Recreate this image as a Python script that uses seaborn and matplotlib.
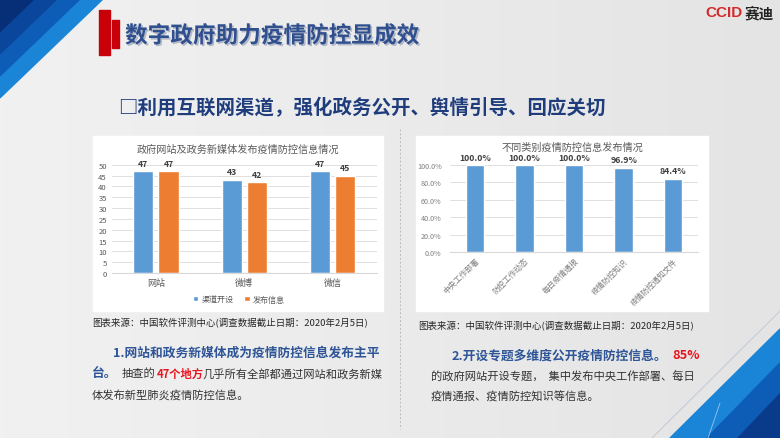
import numpy as np
import pandas as pd
import matplotlib.pyplot as plt
import matplotlib.patheffects as pe
from matplotlib.patches import Polygon, Rectangle
from matplotlib.colors import LinearSegmentedColormap
from matplotlib.ticker import FuncFormatter
import seaborn as sns

# chart 1: 政府网站及政务新媒体
platforms = ['网站', '微博', '微信']
channel_open = [47, 43, 47]
info_release = [47, 42, 45]
series_names = ['渠道开设', '发布信息']

# chart 2: 不同类别疫情防控信息
info_types = ['中央工作部署', '防控工作动态', '每日疫情通报', '疫情防控知识', '疫情防控通知文件']
release_rate = [100.0, 100.0, 100.0, 96.9, 84.4]

sns.set_style('white')
plt.rcParams['font.family'] = ['Noto Sans CJK SC', 'DejaVu Sans']

W, H = 780, 439
BLUE = '#5b9bd5'
ORANGE = '#ed7d31'
GREY_TXT = '#595959'

fig = plt.figure(figsize=(7.8, 4.39), dpi=100)

# background layer in pixel coordinates
bg = fig.add_axes([0, 0, 1, 1])
bg.set_xlim(0, W)
bg.set_ylim(H, 0)
bg.axis('off')
grad = np.linspace(0, 1, 256).reshape(1, -1)
cmap = LinearSegmentedColormap.from_list('bg', ['#f1f1f1', '#ebebeb', '#e4e4e4'])
bg.imshow(grad, extent=[0, W, H, 0], cmap=cmap, aspect='auto', zorder=0)

# corner stripes
for reach, col in [(103, '#1a84d6'), (80, '#0d5cb6'), (57, '#0a469c'), (34, '#072f78')]:
    bg.add_patch(Polygon([(0, 0), (reach, 0), (0, reach * 0.96)], color=col, zorder=1))
bg.plot([652, 780], [439, 312], color='#c5ccd8', lw=0.8, zorder=1)
for x0, y1, col in [(670, 330, '#1a84d6'), (707, 364, '#0d5cb6'), (738, 395, '#0a3a8a')]:
    bg.add_patch(Polygon([(x0, H), (W, y1), (W, H)], color=col, zorder=1))
bg.plot([720, 708], [404, 439], color='#8cbcf0', lw=0.7, zorder=2)

# title block
bg.add_patch(Rectangle((99, 11), 11, 45, color='#c8000a', zorder=2))
bg.add_patch(Rectangle((112, 21), 7, 28, color='#c8000a', zorder=2))
bg.text(125, 37, '数字政府助力疫情防控显成效', fontsize=16.3, fontweight='bold', color='#2f4f8f',
        va='center', zorder=3,
        path_effects=[pe.SimplePatchShadow(offset=(1.2, -1.2), shadow_rgbFace='#9aa3b5', alpha=0.7),
                      pe.Normal()])

bg.text(705, 13, 'CCID', fontsize=11, fontweight='bold', color='#d42a2a', va='center',
        family=['Liberation Sans', 'DejaVu Sans'], zorder=3)
bg.text(745, 13, '赛迪', fontsize=10.5, fontweight='bold', color='#222222', va='center', zorder=3)

bg.text(118, 108, '□利用互联网渠道，强化政务公开、舆情引导、回应关切', fontsize=14,
        fontweight='bold', color='#1f3d7d', va='center', zorder=3)

# white chart panels
bg.add_patch(Rectangle((93, 137), 290, 175, color='white', zorder=2))
bg.add_patch(Rectangle((416, 137), 292, 175, color='white', zorder=2))
bg.text(238, 150, '政府网站及政务新媒体发布疫情防控信息情况', fontsize=7.3, color=GREY_TXT,
        ha='center', va='center', zorder=3)
bg.text(572, 148, '不同类别疫情防控信息发布情况', fontsize=7.3, color=GREY_TXT,
        ha='center', va='center', zorder=3)

src = '图表来源：中国软件评测中心(调查数据截止日期：2020年2月5日)'
bg.text(92, 323, src, fontsize=6.8, color='#262626', va='center', zorder=3)
bg.text(418, 326, src, fontsize=6.8, color='#262626', va='center', zorder=3)

bg.plot([400, 400], [130, 430], ls=(0, (2, 2)), color='#bbbbbb', lw=0.7, zorder=2)

# body text
NAVY = '#2e5597'
DARK = '#333333'
RED = '#e8141e'
bg.text(113, 353, '1.网站和政务新媒体成为疫情防控信息发布主平', fontsize=9.2, fontweight='bold',
        color=NAVY, va='center', zorder=3)
bg.text(92, 374, '台。', fontsize=9.2, fontweight='bold', color=NAVY, va='center', zorder=3)
bg.text(122, 374, '抽查的', fontsize=8.1, color=DARK, va='center', zorder=3)
bg.text(157, 374, '47个地方', fontsize=8.1, fontweight='bold', color=RED, va='center', zorder=3)
bg.text(202, 374, '几乎所有全部都通过网站和政务新媒', fontsize=8.1, color=DARK, va='center', zorder=3)
bg.text(92, 395, '体发布新型肺炎疫情防控信息。', fontsize=8.1, color=DARK, va='center', zorder=3)

bg.text(452, 356, '2.开设专题多维度公开疫情防控信息。', fontsize=9.2, fontweight='bold',
        color=NAVY, va='center', zorder=3)
bg.text(672, 356, '85%', fontsize=9.2, fontweight='bold', color=RED, va='center', zorder=3)
bg.text(431, 377, '的政府网站开设专题，  集中发布中央工作部署、每日', fontsize=8.1, color=DARK,
        va='center', zorder=3)
bg.text(431, 397, '疫情通报、疫情防控知识等信息。', fontsize=8.1, color=DARK, va='center', zorder=3)

# chart 1
df1 = pd.DataFrame({
    '平台': platforms * 2,
    '类型': [series_names[0]] * 3 + [series_names[1]] * 3,
    '数量': channel_open + info_release,
})
ax1 = fig.add_axes([111.7 / W, (H - 274) / H, 265 / W, 108.3 / H])
sns.barplot(data=df1, x='平台', y='数量', hue='类型', palette=[BLUE, ORANGE],
            width=0.57, gap=0.2, ax=ax1, saturation=1)
ax1.set_ylim(0, 50)
ax1.set_yticks(range(0, 51, 5))
ax1.set_xlabel('')
ax1.set_ylabel('')
ax1.yaxis.grid(True, color='#d9d9d9', lw=0.6)
ax1.set_axisbelow(True)
for s in ['top', 'right', 'left']:
    ax1.spines[s].set_visible(False)
ax1.spines['bottom'].set_color('#d9d9d9')
ax1.tick_params(axis='y', length=0, pad=3.5, labelsize=5.5, labelcolor=GREY_TXT)
ax1.tick_params(axis='x', length=0, pad=3.5, labelsize=6.5, labelcolor=GREY_TXT)
for cont in ax1.containers:
    ax1.bar_label(cont, padding=2.5, fontsize=6.3, fontweight='bold', color='#404040')
ax1.legend(loc='center', bbox_to_anchor=(0.48, -0.24), ncol=2, frameon=False,
           fontsize=5.8, handlelength=0.7, handleheight=0.7, columnspacing=1.3,
           handletextpad=0.4, labelcolor=GREY_TXT)

# chart 2
df2 = pd.DataFrame({'类别': info_types, '比例': release_rate})
ax2 = fig.add_axes([450 / W, (H - 253.3) / H, 248 / W, 87.3 / H])
sns.barplot(data=df2, x='类别', y='比例', color=BLUE, width=0.37, ax=ax2, saturation=1)
ax2.set_ylim(0, 100)
ax2.set_yticks(range(0, 101, 20))
ax2.yaxis.set_major_formatter(FuncFormatter(lambda v, p: f'{v:.1f}%'))
ax2.set_xlabel('')
ax2.set_ylabel('')
ax2.yaxis.grid(True, color='#d9d9d9', lw=0.6)
ax2.set_axisbelow(True)
for s in ['top', 'right', 'left']:
    ax2.spines[s].set_visible(False)
ax2.spines['bottom'].set_color('#d9d9d9')
ax2.tick_params(axis='y', length=0, pad=6, labelsize=5.2, labelcolor='#7f7f7f')
ax2.tick_params(axis='x', length=0, pad=3, labelsize=5.6, labelcolor='#7f7f7f')
plt.setp(ax2.get_xticklabels(), rotation=45, ha='right', rotation_mode='anchor')
for cont in ax2.containers:
    ax2.bar_label(cont, fmt='%.1f%%', padding=2.5, fontsize=6.3, fontweight='bold', color='#404040')

fig.savefig('out.png', dpi=100)
